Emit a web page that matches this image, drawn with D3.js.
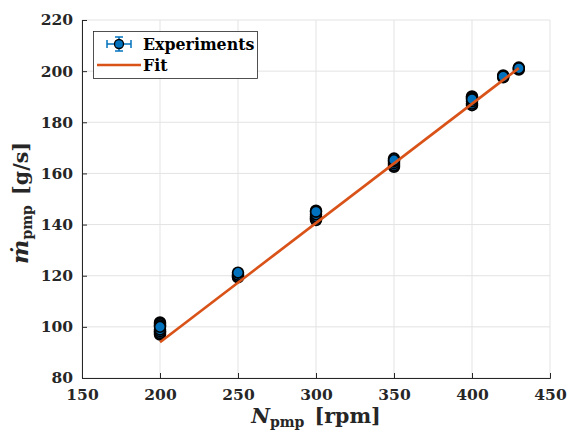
<!DOCTYPE html>
<html><head><meta charset="utf-8">
<script src="https://cdn.jsdelivr.net/npm/d3@7"></script>
<style>body{margin:0;background:#fff}svg{display:block}</style>
</head><body>
<script>
// data
const speeds = [200,200,200,200,200,200,200,200,
  250,250,250,250,
  300,300,300,300,300,300,
  350,350,350,350,350,350,
  400,400,400,400,400,400,
  420,420,420,
  430,430,430];
const massFlow = [97.0,97.6,98.3,99.0,101.7,101.2,100.6,100.0,
  119.4,119.8,120.4,121.2,
  141.8,142.5,143.2,144.0,145.4,145.0,
  162.6,163.2,164.0,164.8,165.8,165.2,
  186.7,187.3,188.2,190.1,189.5,189.0,
  197.6,198.3,197.9,
  200.6,201.4,201.1];
const errs = speeds.map(() => 0.5);
const fitN = [200, 430];
const fitM = [94.0, 201.2];
const xTicks = [150,200,250,300,350,400,450];
const yTicks = [80,100,120,140,160,180,200,220];
const legendLabels = ["Experiments", "Fit"];

const W = 568, H = 438;
const blue = "#0072BD", orange = "#D95319";
const svg = d3.select("body").append("svg").attr("width", W).attr("height", H);
const x = d3.scaleLinear().domain([150,450]).range([82,550]);
const y = d3.scaleLinear().domain([80,220]).range([378,20]);
const font = "'DejaVu Serif', serif";

// grid
const g = svg.append("g");
g.selectAll(".gx").data(xTicks).enter().append("line")
  .attr("x1", d => x(d)).attr("x2", d => x(d)).attr("y1", y(80)).attr("y2", y(220))
  .attr("stroke", "#e3e3e3").attr("stroke-width", 1);
g.selectAll(".gy").data(yTicks).enter().append("line")
  .attr("y1", d => y(d)).attr("y2", d => y(d)).attr("x1", x(150)).attr("x2", x(450))
  .attr("stroke", "#e3e3e3").attr("stroke-width", 1);

// axes
const xAxis = d3.axisBottom(x).tickValues(xTicks).tickSize(-5).tickPadding(11).tickFormat(d3.format("d"));
const yAxis = d3.axisLeft(y).tickValues(yTicks).tickSize(-5).tickPadding(9).tickFormat(d3.format("d"));
const gx = svg.append("g").attr("transform", `translate(0,${y(80)})`).call(xAxis);
const gy = svg.append("g").attr("transform", `translate(${x(150)},0)`).call(yAxis);
[gx, gy].forEach(a => {
  a.select(".domain").attr("stroke", "#262626").attr("stroke-width", 1);
  a.selectAll(".tick line").attr("stroke", "#262626");
  a.selectAll(".tick text").attr("font-family", font).attr("font-weight", "bold")
    .attr("font-size", 15.5).attr("fill", "#262626");
});

// error bars
const pts = speeds.map((s, i) => ({s, m: massFlow[i], e: errs[i]}));
const eb = svg.append("g").attr("stroke", blue).attr("stroke-width", 1.5);
pts.forEach(p => {
  eb.append("line").attr("x1", x(p.s)).attr("x2", x(p.s)).attr("y1", y(p.m - p.e)).attr("y2", y(p.m + p.e));
  [p.m - p.e, p.m + p.e].forEach(v => eb.append("line").attr("x1", x(p.s) - 4).attr("x2", x(p.s) + 4).attr("y1", y(v)).attr("y2", y(v)));
});
// markers
svg.append("g").selectAll("circle").data(pts).enter().append("circle")
  .attr("cx", d => x(d.s)).attr("cy", d => y(d.m)).attr("r", 5.4)
  .attr("fill", blue).attr("stroke", "#000").attr("stroke-width", 1.7);

// fit line
const line = d3.line().x(d => x(d[0])).y(d => y(d[1]));
svg.append("path").datum(fitN.map((n, i) => [n, fitM[i]])).attr("d", line)
  .attr("fill", "none").attr("stroke", orange).attr("stroke-width", 2.7);

// axis labels
const xl = svg.append("text").attr("x", 316).attr("y", 423).attr("text-anchor", "middle")
  .attr("font-family", font).attr("font-weight", "bold").attr("font-size", 20.5).attr("fill", "#262626");
xl.append("tspan").attr("font-style", "italic").text("N");
xl.append("tspan").attr("font-size", 14).attr("dy", 4).text("pmp");
xl.append("tspan").attr("dy", -4).text("\u2002[rpm]");

const yl = svg.append("text").attr("transform", "translate(28,203) rotate(-90)").attr("text-anchor", "middle")
  .attr("font-family", font).attr("font-weight", "bold").attr("font-size", 20.5).attr("fill", "#262626");
yl.append("tspan").attr("font-style", "italic").attr("font-size", 23).text("\u1E41");
yl.append("tspan").attr("font-size", 14).attr("dy", 4).text("pmp");
yl.append("tspan").attr("dy", -4).text("\u2002[g/s]");

// legend
const lg = svg.append("g");
lg.append("rect").attr("x", 93.5).attr("y", 31.5).attr("width", 164).attr("height", 47)
  .attr("fill", "#fff").attr("stroke", "#262626").attr("stroke-width", 0.8);
const ly1 = 44, ly2 = 65;
const le = lg.append("g").attr("stroke", blue).attr("stroke-width", 1.5);
le.append("line").attr("x1", 107).attr("x2", 131).attr("y1", ly1).attr("y2", ly1);
le.append("line").attr("x1", 107).attr("x2", 107).attr("y1", ly1 - 4).attr("y2", ly1 + 4);
le.append("line").attr("x1", 131).attr("x2", 131).attr("y1", ly1 - 4).attr("y2", ly1 + 4);
le.append("line").attr("x1", 119).attr("x2", 119).attr("y1", ly1 - 7).attr("y2", ly1 + 7);
le.append("line").attr("x1", 115).attr("x2", 123).attr("y1", ly1 - 7).attr("y2", ly1 - 7);
le.append("line").attr("x1", 115).attr("x2", 123).attr("y1", ly1 + 7).attr("y2", ly1 + 7);
lg.append("circle").attr("cx", 119).attr("cy", ly1).attr("r", 4.5).attr("fill", blue).attr("stroke", "#000").attr("stroke-width", 1.3);
lg.append("line").attr("x1", 97).attr("x2", 141).attr("y1", ly2).attr("y2", ly2).attr("stroke", orange).attr("stroke-width", 2.5);
lg.selectAll("text").data(legendLabels).enter().append("text")
  .attr("x", 143).attr("y", (d, i) => i === 0 ? ly1 : ly2).attr("dy", "0.35em")
  .attr("font-family", font).attr("font-weight", "bold").attr("font-size", 15.8).attr("fill", "#000").text(d => d);
</script>
</body></html>
